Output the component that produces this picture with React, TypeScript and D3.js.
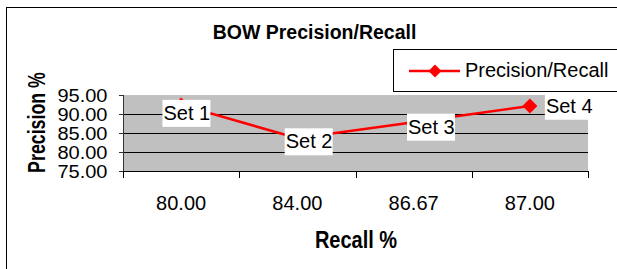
import React from 'react';
import * as d3 from 'd3';

// Chart data
const recallLabels = ['80.00', '84.00', '86.67', '87.00'];
const precision = [92.4, 83.6, 87.8, 92.1];
const setNames = ['Set 1', 'Set 2', 'Set 3', 'Set 4'];
const yTicks = [75, 80, 85, 90, 95];

// label placement relative to each point (layout only)
const labelDx = [-17.7, -11.7, -5.6, 16];
const labelDy = [15, 10, 11.3, 6.7];

const W = 617;
const H = 269;
const plot = { left: 123, right: 588, top: 95, bottom: 171 };
const FONT = '"Liberation Sans", Arial, sans-serif';
const RED = '#ff0000';

function diamond(cx: number, cy: number, r: number) {
  return `M${cx},${cy - r}L${cx + r},${cy}L${cx},${cy + r}L${cx - r},${cy}Z`;
}

export default function App() {
  const x = d3.scaleBand<string>()
    .domain(recallLabels)
    .range([plot.left, plot.right])
    .padding(0);

  const y = d3.scaleLinear()
    .domain([75, 95])
    .range([plot.bottom, plot.top]);

  const fmt = d3.format('.2f');
  const cx = (i: number) => (x(recallLabels[i]) || 0) + x.bandwidth() / 2;

  const line = d3.line<number>()
    .x((_, i) => cx(i))
    .y(d => y(d));

  const boundaries = [...recallLabels.map(r => x(r) || 0), plot.right];

  return (
    <svg
      width={W}
      height={H}
      style={{ position: 'absolute', left: 0, top: 0, background: '#fff' }}
      fontFamily={FONT}
    >
      <rect x={0} y={0} width={W} height={H} fill="#fff" />
      {/* outer chart frame, runs past the picture edge */}
      <rect x={6.5} y={7.5} width={700} height={400} fill="none" stroke="#000" strokeWidth={1} />

      {/* title */}
      <text x={314.5} y={39} textAnchor="middle" fontSize={19.5} fontWeight="bold" fill="#000">
        BOW Precision/Recall
      </text>

      {/* plot area */}
      <rect x={plot.left} y={plot.top} width={plot.right - plot.left} height={plot.bottom - plot.top} fill="#c0c0c0" />
      {yTicks.filter(t => t > 75 && t < 95).map(t => (
        <line key={t} x1={plot.left} x2={plot.right} y1={Math.round(y(t)) + 0.5} y2={Math.round(y(t)) + 0.5} stroke="#000" strokeWidth={1} />
      ))}

      {/* y axis */}
      <line x1={plot.left + 0.5} x2={plot.left + 0.5} y1={plot.top} y2={plot.bottom} stroke="#333" strokeWidth={1} />
      {yTicks.map(t => {
        const ty = Math.round(y(t)) + 0.5;
        return (
          <g key={t}>
            <line x1={plot.left - 4} x2={plot.left} y1={ty} y2={ty} stroke="#333" />
            <text
              transform={`translate(107.5,${ty}) scale(1,0.89)`}
              textAnchor="end"
              dominantBaseline="central"
              fontSize={20}
              fill="#000"
            >
              {fmt(t)}
            </text>
          </g>
        );
      })}

      {/* x axis */}
      <line x1={plot.left} x2={plot.right} y1={plot.bottom + 0.5} y2={plot.bottom + 0.5} stroke="#000" />
      {boundaries.map((b, i) => (
        <line key={i} x1={Math.round(b) + 0.5} x2={Math.round(b) + 0.5} y1={plot.bottom} y2={plot.bottom + 7} stroke="#000" />
      ))}
      {recallLabels.map((r, i) => (
        <text key={r} x={cx(i)} y={210} textAnchor="middle" fontSize={20} fill="#000">
          {r}
        </text>
      ))}

      {/* axis titles */}
      <text transform="translate(356,248.3) scale(1,1.16)" textAnchor="middle" fontSize={20} fontWeight="bold" fill="#000">
        Recall %
      </text>
      <text transform="translate(45,122.5) rotate(-90) scale(0.89,1.15)" textAnchor="middle" fontSize={20} fontWeight="bold" fill="#000">
        Precision %
      </text>

      {/* series */}
      <path d={line(precision) || ''} fill="none" stroke={RED} strokeWidth={2.5} />
      {precision.map((p, i) => (
        <path key={i} d={diamond(cx(i), y(p), 7.5)} fill={RED} />
      ))}

      {/* data labels */}
      {precision.map((p, i) => {
        const lx = cx(i) + labelDx[i];
        const ly = y(p) + labelDy[i];
        return (
          <g key={i}>
            <rect x={lx - 1} y={ly - 20} width={48} height={27} fill="#fff" />
            <text x={lx} y={ly} fontSize={20} fill="#000">{setNames[i]}</text>
          </g>
        );
      })}

      {/* legend, runs past the picture edge */}
      <rect x={393.5} y={49.5} width={300} height={42} fill="#fff" stroke="#000" strokeWidth={1} />
      <line x1={409} x2={460} y1={71} y2={71} stroke={RED} strokeWidth={2.5} />
      <path d={diamond(435, 71, 6.5)} fill={RED} />
      <text x={465} y={77.3} fontSize={20} fill="#000">Precision/Recall</text>
    </svg>
  );
}
